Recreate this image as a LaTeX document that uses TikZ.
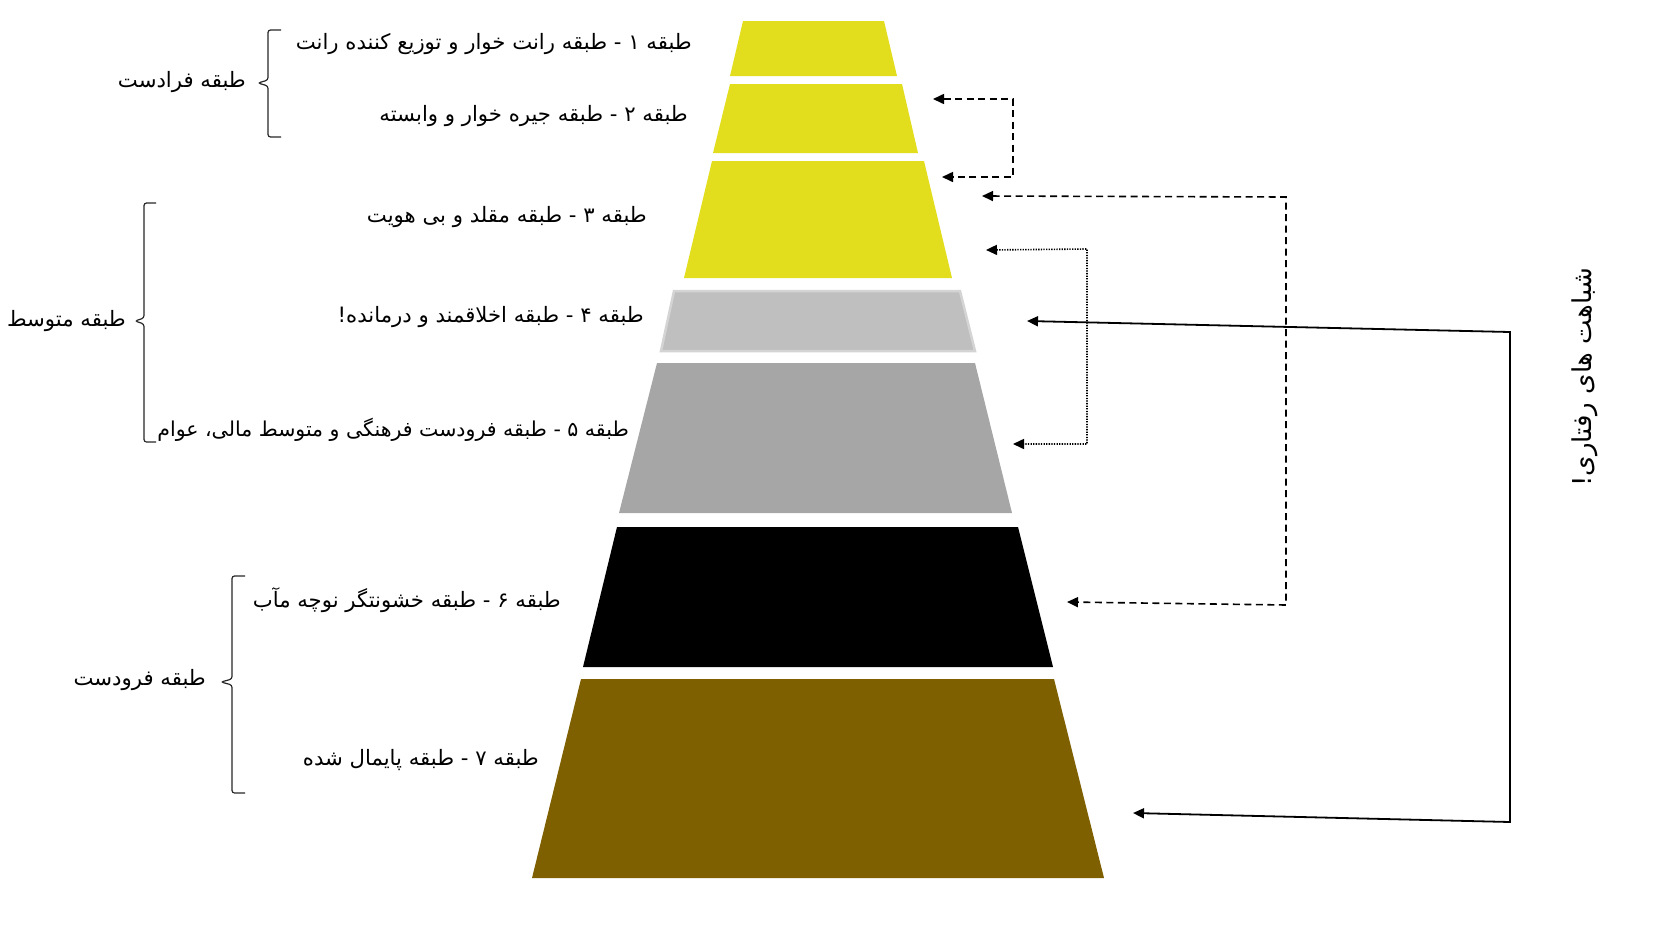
\documentclass[tikz,border=0pt]{standalone}
\usepackage{fontspec}
\newfontfamily\arabicfont[Script=Arabic]{DejaVu Sans}
\TeXXeTstate=1
\usetikzlibrary{arrows.meta}
\definecolor{lyellow}{RGB}{226,222,30}
\definecolor{lgrey}{RGB}{191,191,191}
\definecolor{lgreyedge}{RGB}{212,212,212}
\definecolor{mgrey}{RGB}{166,166,166}
\definecolor{olive}{RGB}{127,96,0}
\tikzset{
  lbl/.style={font=\arabicfont\fontsize{21.2}{25}\selectfont, inner sep=0pt, anchor=east},
  conn/.style={line width=1.6pt, {Triangle[length=11pt,width=10pt]}-{Triangle[length=11pt,width=10pt]}},
  dashline/.style={dash pattern=on 7pt off 4.5pt},
  dotline/.style={dash pattern=on 1.3pt off 1.3pt},
  bracepath/.style={line width=1.2pt, draw=black!85, rounded corners=2.5pt},
}
\begin{document}
\begin{tikzpicture}[x=1pt,y=-1pt]
\useasboundingbox (0,0) rectangle (1678,926);
% pyramid layers
\fill[lyellow] (743,21) -- (884,21) -- (897,76) -- (730,76) -- cycle;
\fill[lyellow] (730,84) -- (902,84) -- (918,153) -- (713,153) -- cycle;
\fill[lyellow] (712,161) -- (924,161) -- (952,278) -- (684,278) -- cycle;
\filldraw[fill=lgrey, draw=lgreyedge, line width=2.5pt] (674,291) -- (960,291) -- (975,351) -- (661,351) -- cycle;
\fill[mgrey] (657,363) -- (975,363) -- (1012,513) -- (619,513) -- cycle;
\fill[black] (617,527) -- (1018,527) -- (1053,667) -- (583,667) -- cycle;
\fill[olive] (581,679) -- (1054,679) -- (1104,878) -- (532,878) -- cycle;

% layer labels
\node[lbl] (t1) at (692,44) {\beginR طبقه ۱ - طبقه رانت خوار و توزیع کننده رانت\endR};
\node[lbl] (t2) at (688,116) {\beginR طبقه ۲ - طبقه جیره خوار و وابسته\endR};
\node[lbl] (t3) at (647,217) {\beginR طبقه ۳ - طبقه مقلد و بی هویت\endR};
\node[lbl] (t4) at (644,317) {\beginR طبقه ۴ - طبقه اخلاقمند و درمانده!\endR};
\node[lbl, font=\arabicfont\fontsize{20.5}{25}\selectfont] (t5) at (629,430) {\beginR طبقه ۵ - طبقه فرودست فرهنگی و متوسط مالی، عوام\endR};
\node[lbl] (t6) at (561,600) {\beginR طبقه ۶ - طبقه خشونتگر نوچه مآب\endR};
\node[lbl] (t7) at (539,760) {\beginR طبقه ۷ - طبقه پایمال شده\endR};

% group labels
\node[lbl] (g1) at (246,82) {\beginR طبقه فرادست\endR};
\node[lbl] (g2) at (126,321) {\beginR طبقه متوسط\endR};
\node[lbl] (g3) at (206,680) {\beginR طبقه فرودست\endR};

% braces
\coordinate (b1t) at (281,30); \coordinate (b1m) at (258,83); \coordinate (b1b) at (281,137);
\draw[bracepath] (b1t) -- (268,30) -- (268,80) -- (b1m) -- (268,86) -- (268,137) -- (b1b);
\coordinate (b2t) at (156,203); \coordinate (b2m) at (135,321); \coordinate (b2b) at (156,442);
\draw[bracepath] (b2t) -- (144,203) -- (144,318) -- (b2m) -- (144,324) -- (144,442) -- (b2b);
\coordinate (b3t) at (245,576); \coordinate (b3m) at (221,682); \coordinate (b3b) at (245,793);
\draw[bracepath] (b3t) -- (232,576) -- (232,679) -- (b3m) -- (232,685) -- (232,793) -- (b3b);

% connectors
\coordinate (a1s) at (933,99);  \coordinate (a1c) at (1013,99);
\coordinate (a1d) at (1013,177); \coordinate (a1e) at (942,177);
\draw[conn, dashline] (a1s) -- (a1c) -- (a1d) -- (a1e);

\coordinate (a2s) at (982,196);  \coordinate (a2c) at (1286,197);
\coordinate (a2d) at (1286,605); \coordinate (a2e) at (1067,602);
\draw[conn, dashline] (a2s) -- (a2c) -- (a2d) -- (a2e);

\coordinate (a3s) at (986,250);  \coordinate (a3c) at (1087,249);
\coordinate (a3d) at (1087,444); \coordinate (a3e) at (1013,444);
\draw[conn, dotline] (a3s) -- (a3c) -- (a3d) -- (a3e);

\coordinate (a4s) at (1027,321);  \coordinate (a4c) at (1510,332);
\coordinate (a4d) at (1510,822); \coordinate (a4e) at (1133,813);
\draw[conn, line width=1.8pt] (a4s) -- (a4c) -- (a4d) -- (a4e);

% side label
\node[font=\arabicfont\fontsize{26}{30}\selectfont, inner sep=0pt, rotate=90] (side) at (1585,377) {\beginR شباهت های رفتاری!\endR};
\end{tikzpicture}
\end{document}
